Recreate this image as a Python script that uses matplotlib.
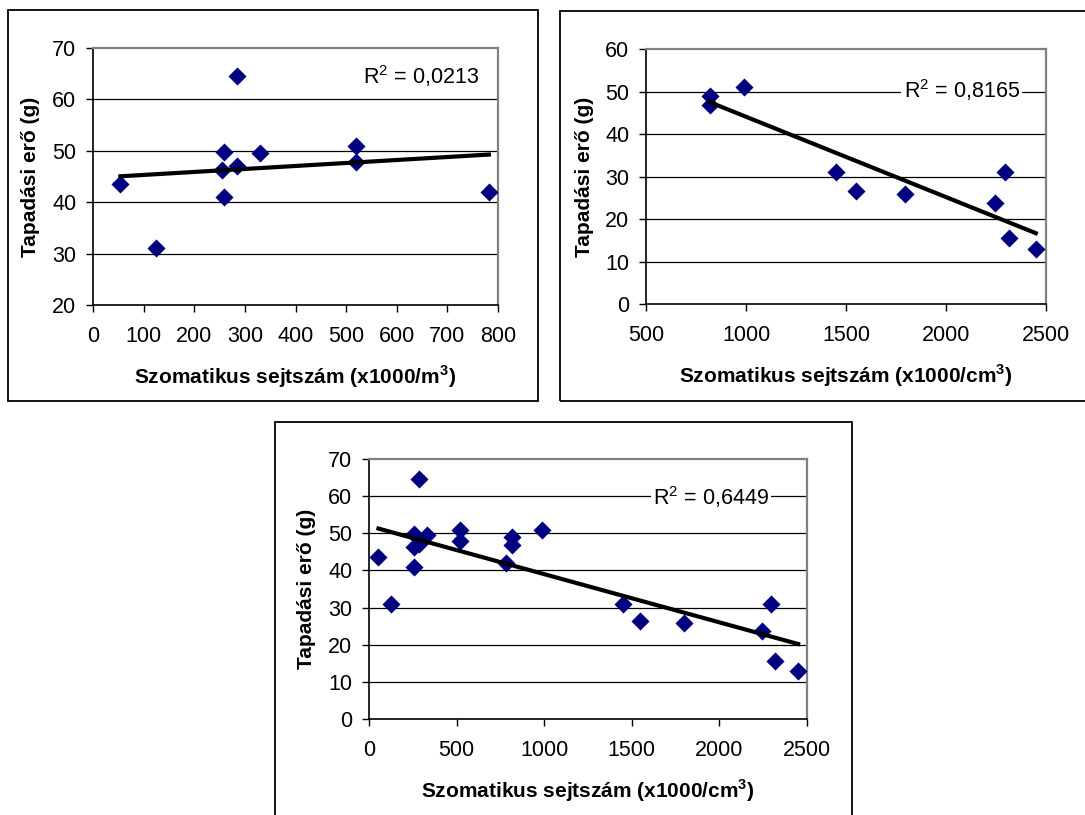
import matplotlib

matplotlib.use("Agg")

import matplotlib.pyplot as plt
import numpy as np
from matplotlib.patches import Rectangle


W, H = 1085, 815

# panel 1: szomatikus sejtszam (x1000/m3) vs tapadasi ero
p1_x = [54, 124, 255, 259, 259, 284, 284, 330, 520, 520, 782]
p1_y = [43.5, 31, 46.3, 49.7, 41, 64.5, 47, 49.5, 51, 47.8, 42]
p1_r2 = "0,0213"

# panel 2: high cell count samples
p2_x = [819, 819, 990, 1448, 1549, 1797, 2245, 2296, 2317, 2449]
p2_y = [49, 46.8, 51, 31, 26.5, 25.8, 23.8, 31, 15.5, 13]
p2_r2 = "0,8165"

# panel 3: all samples together
p3_x = p1_x + p2_x
p3_y = p1_y + p2_y
p3_r2 = "0,6449"

x_label_m3 = r"Szomatikus sejtszám (x1000/m$^{\mathbf{3}}$)"
x_label_cm3 = r"Szomatikus sejtszám (x1000/cm$^{\mathbf{3}}$)"
y_label = "Tapadási erő (g)"

plt.rcParams["font.family"] = ["Liberation Sans", "DejaVu Sans"]
plt.rcParams["mathtext.fontset"] = "custom"
plt.rcParams["mathtext.rm"] = "Liberation Sans"
plt.rcParams["mathtext.bf"] = "Liberation Sans:bold"


def px_rect(left, top, right, bottom):
    return [left / W, 1 - bottom / H, (right - left) / W, (bottom - top) / H]


def draw_panel(fig, rect, xs, ys, xlim, xticks, ylim, yticks, xlabel, r2, r2_pos):
    ax = fig.add_axes(px_rect(*rect))
    width_px = rect[2] - rect[0]
    height_px = rect[3] - rect[1]

    ax.set_xlim(*xlim)
    ax.set_ylim(*ylim)
    ax.set_xticks(xticks)
    ax.set_yticks(yticks)
    for y in yticks[1:-1]:
        ax.axhline(y, color="black", lw=0.9, zorder=1)

    ax.scatter(xs, ys, marker="D", s=85, color="#000080", zorder=3, linewidths=0)

    slope, intercept = np.polyfit(xs, ys, 1)
    xx = np.array([min(xs), max(xs)])
    ax.plot(xx, slope * xx + intercept, color="black", lw=3.0, zorder=4)

    ax.text(r2_pos[0], r2_pos[1], f"R$^2$ = {r2}", fontsize=15.5, ha="right", va="center",
            zorder=2, bbox=dict(facecolor="white", edgecolor="none", pad=1.5))

    for side in ["top", "right"]:
        ax.spines[side].set_color("#808080")
        ax.spines[side].set_linewidth(1.6)
    for side in ["left", "bottom"]:
        ax.spines[side].set_color("black")
        ax.spines[side].set_linewidth(1.2)
    ax.tick_params(axis="both", direction="out", length=5, width=1, labelsize=15.5)
    ax.tick_params(axis="x", pad=10)
    ax.tick_params(axis="y", pad=7)

    ax.set_xlabel(xlabel, fontsize=15, fontweight="bold", va="center")
    ax.xaxis.set_label_coords(0.5, -72 / height_px)
    ax.set_ylabel(y_label, fontsize=15, fontweight="bold", va="center")
    ax.yaxis.set_label_coords(-62 / width_px, 0.5)
    return ax


def main():
    fig = plt.figure(figsize=(W / 100, H / 100), dpi=100)

    for left, top, right, bottom in [(8, 10, 538, 401), (560, 11, 1090, 401), (275, 422, 852, 820)]:
        fig.patches.append(Rectangle((left / W, 1 - bottom / H), (right - left) / W, (bottom - top) / H,
                                     transform=fig.transFigure, fill=False, edgecolor="black", lw=1.3))

    draw_panel(fig, (93, 48, 498, 305), p1_x, p1_y, (0, 800), range(0, 801, 100),
               (20, 70), list(range(20, 71, 10)), x_label_m3, p1_r2, (762, 64.5))
    draw_panel(fig, (646, 49, 1046, 304), p2_x, p2_y, (500, 2500), range(500, 2501, 500),
               (0, 60), list(range(0, 61, 10)), x_label_cm3, p2_r2, (2368, 50.3))
    draw_panel(fig, (369, 459, 807, 719), p3_x, p3_y, (0, 2500), range(0, 2501, 500),
               (0, 70), list(range(0, 71, 10)), x_label_cm3, p3_r2, (2282, 59.8))

    fig.savefig("out.png", dpi=100)
    plt.close(fig)


if __name__ == "__main__":
    main()
